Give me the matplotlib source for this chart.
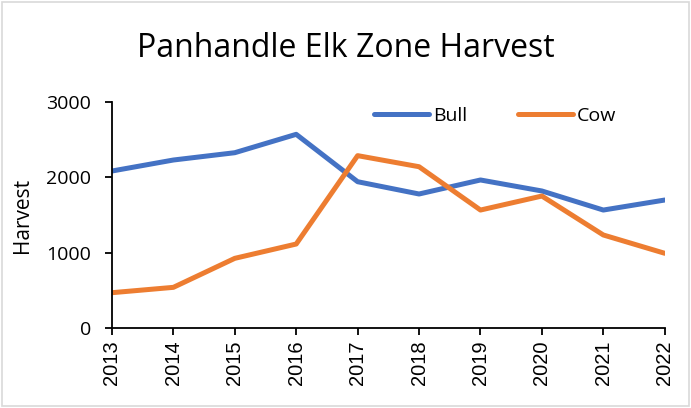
import numpy as np
import matplotlib.pyplot as plt
from matplotlib.patches import Rectangle

years = [2013, 2014, 2015, 2016, 2017, 2018, 2019, 2020, 2021, 2022]
bull = [2084, 2230, 2327, 2571, 1942, 1779, 1965, 1819, 1566, 1699]
cow = [469, 540, 925, 1115, 2288, 2141, 1566, 1752, 1235, 992]

fig = plt.figure(figsize=(6.91, 4.08), dpi=100)
ax = fig.add_axes([0.162, 0.196, 0.8, 0.554])

x = np.arange(len(years))
ax.plot(x, bull, color='#4472C4', lw=3.6, label='Bull', solid_capstyle='round')
ax.plot(x, cow, color='#ED7D31', lw=3.6, label='Cow', solid_capstyle='round')

ax.set_xlim(0, len(years) - 1)
ax.set_ylim(0, 3000)
ax.set_yticks([0, 1000, 2000, 3000])
ax.set_xticks(x)
ax.set_xticklabels([str(y) for y in years], rotation=90, family='Liberation Sans', fontsize=14.5)
for t in ax.get_yticklabels():
    t.set_family('Open Sans')
    t.set_fontsize(14)

ax.spines['top'].set_visible(False)
ax.spines['right'].set_visible(False)
ax.spines['left'].set_linewidth(1.3)
ax.spines['bottom'].set_linewidth(1.3)
ax.tick_params(axis='both', length=5, width=1.3, direction='out')
ax.tick_params(axis='y', pad=10)
ax.tick_params(axis='x', pad=4)

ax.set_ylabel('Harvest', family='Open Sans', fontsize=15)
ax.yaxis.set_label_coords(-0.142, 0.5)
fig.text(0.5, 0.882, 'Panhandle Elk Zone Harvest', ha='center', va='center',
         family='Open Sans', fontsize=23)

ax.legend(loc='center', bbox_to_anchor=(0.693, 0.937), ncol=2, frameon=False,
          prop={'family': 'Open Sans', 'size': 14}, handlelength=2.85,
          handletextpad=0.2, columnspacing=2.6)

fig.patches.append(Rectangle((0.003, 0.004), 0.994, 0.992, transform=fig.transFigure,
                             fill=False, edgecolor='#D9D9D9', lw=1.2))

fig.savefig('out.png', dpi=100)
